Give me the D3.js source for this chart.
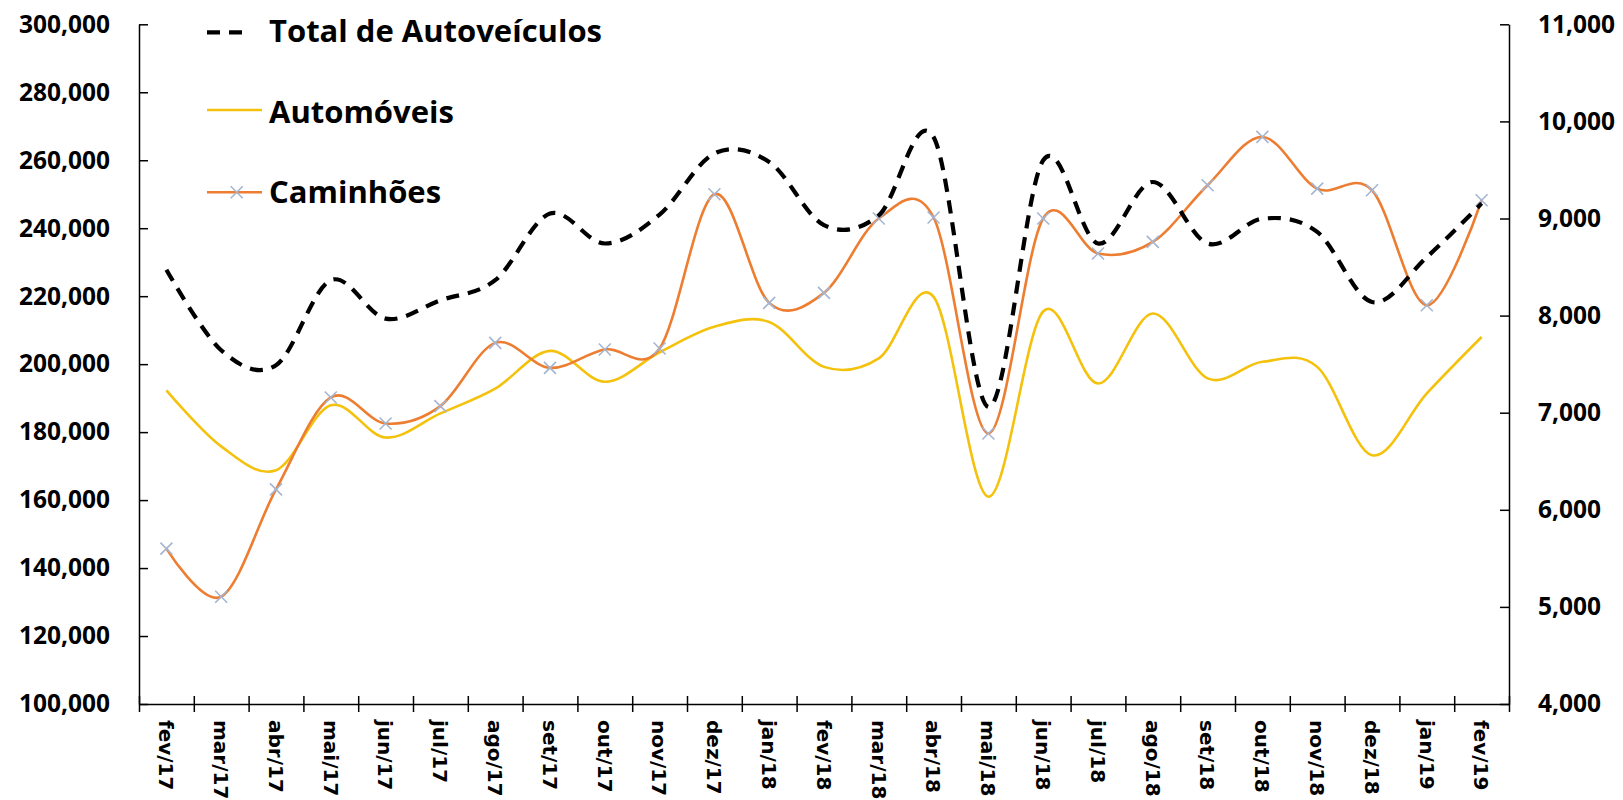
<!DOCTYPE html>
<html>
<head>
<meta charset="utf-8">
<script src="https://cdn.jsdelivr.net/npm/d3@7"></script>
<style>
  html, body { margin: 0; padding: 0; background: #fff; }
  svg { display: block; }
</style>
</head>
<body>
<svg id="chart" width="1623" height="800"></svg>
<script>
const categories = ["fev/17","mar/17","abr/17","mai/17","jun/17","jul/17","ago/17","set/17","out/17","nov/17","dez/17","jan/18","fev/18","mar/18","abr/18","mai/18","jun/18","jul/18","ago/18","set/18","out/18","nov/18","dez/18","jan/19","fev/19"];
const totalAutoveiculos = [227800,204100,199700,224700,213400,218800,224700,244300,235500,244000,262000,259500,240900,243800,266800,187400,260000,235500,253600,235500,242800,238900,218300,231500,247300];
const automoveis = [192300,175800,168800,187900,178400,185500,192800,203900,194800,203500,211000,212400,199200,201700,219800,161000,215500,194300,214900,195800,200700,199200,173200,191400,208000];
const caminhoes = [5600,5105,6210,7157,6889,7068,7719,7462,7651,7661,9250,8131,8234,9000,9010,6786,9000,8639,8759,9343,9840,9308,9291,8107,9188];
const leftTicks = [100000,120000,140000,160000,180000,200000,220000,240000,260000,280000,300000];
const rightTicks = [4000,5000,6000,7000,8000,9000,10000,11000];
const legendLabels = ["Total de Autoveículos","Automóveis","Caminhões"];

const svg = d3.select("#chart");
const L = 139, R = 1509, T = 24.3, B = 704;

const x = d3.scaleBand().domain(categories).range([L, R]).padding(0);
const xIdx = d3.scaleLinear().domain([0, categories.length]).range([L, R]);
const yL = d3.scaleLinear().domain([100000, 300000]).range([B, T]);
const yR = d3.scaleLinear().domain([4000, 11000]).range([B, T]);
const cx = c => x(c) + x.bandwidth() / 2;

const tickFont = "'Open Sans', sans-serif";

// Left axis
const gL = svg.append("g").attr("transform", `translate(${L},0)`)
  .call(d3.axisLeft(yL).tickValues(leftTicks).tickFormat(d3.format(",")).tickSizeInner(-9).tickSizeOuter(0).tickPadding(29));
gL.select(".domain").attr("stroke", "#000").attr("stroke-width", 1.5);
gL.selectAll(".tick line").attr("stroke", "#000").attr("stroke-width", 1.5);
gL.selectAll(".tick text").attr("font-family", tickFont).attr("font-weight", 700)
  .attr("font-size", "24.5px").attr("fill", "#000");

// Right axis
const gR = svg.append("g").attr("transform", `translate(${R},0)`)
  .call(d3.axisRight(yR).tickValues(rightTicks).tickFormat(d3.format(",")).tickSizeInner(-9).tickSizeOuter(0).tickPadding(29));
gR.select(".domain").attr("stroke", "#000").attr("stroke-width", 1.5);
gR.selectAll(".tick line").attr("stroke", "#000").attr("stroke-width", 1.5);
gR.selectAll(".tick text").attr("font-family", tickFont).attr("font-weight", 700)
  .attr("font-size", "24.5px").attr("fill", "#000");

// Bottom axis (ticks at category boundaries, crossing)
const gB = svg.append("g").attr("transform", `translate(0,${B})`)
  .call(d3.axisBottom(xIdx).tickValues(d3.range(0, categories.length + 1)).tickFormat("").tickSizeOuter(0));
gB.select(".domain").attr("stroke", "#000").attr("stroke-width", 1.5);
gB.selectAll(".tick line").attr("y1", -8).attr("y2", 8).attr("stroke", "#000").attr("stroke-width", 1.5);

// Category labels (rotated)
svg.append("g").selectAll("text").data(categories).join("text")
  .attr("transform", d => `translate(${cx(d)},${B + 16}) rotate(90)`)
  .attr("text-anchor", "start")
  .attr("dy", "0.36em")
  .attr("font-family", "'DejaVu Sans', Verdana, sans-serif")
  .attr("font-weight", 700)
  .attr("font-size", "20px")
  .attr("fill", "#000")
  .text(d => d);

const curve = d3.curveCardinal.tension(0);

// Automóveis
const lineL = d3.line().x((d, i) => cx(categories[i])).y(d => yL(d)).curve(curve);
const lineR = d3.line().x((d, i) => cx(categories[i])).y(d => yR(d)).curve(curve);

svg.append("path").datum(automoveis).attr("d", lineL)
  .attr("fill", "none").attr("stroke", "#F4C20D").attr("stroke-width", 2.6);

svg.append("path").datum(caminhoes).attr("d", lineR)
  .attr("fill", "none").attr("stroke", "#ED7D31").attr("stroke-width", 2.6);

// X markers
const markerColor = "#A5B5D0";
const xMark = s => `M${-s},${-s}L${s},${s}M${-s},${s}L${s},${-s}`;
svg.append("g").selectAll("path").data(caminhoes).join("path")
  .attr("transform", (d, i) => `translate(${cx(categories[i])},${yR(d)})`)
  .attr("d", xMark(6))
  .attr("stroke", markerColor).attr("stroke-width", 1.6).attr("fill", "none");

svg.append("path").datum(totalAutoveiculos).attr("d", lineL)
  .attr("fill", "none").attr("stroke", "#000").attr("stroke-width", 4.2)
  .attr("stroke-dasharray", "13,9");

// Legend
const legendFont = "'Open Sans', sans-serif";
const lg = svg.append("g");
lg.append("line").attr("x1", 207).attr("x2", 243).attr("y1", 32.3).attr("y2", 32.3)
  .attr("stroke", "#000").attr("stroke-width", 4.2).attr("stroke-dasharray", "13,9");
lg.append("line").attr("x1", 207).attr("x2", 262).attr("y1", 110).attr("y2", 110)
  .attr("stroke", "#F4C20D").attr("stroke-width", 2.6);
lg.append("line").attr("x1", 207).attr("x2", 262).attr("y1", 192.3).attr("y2", 192.3)
  .attr("stroke", "#ED7D31").attr("stroke-width", 2.6);
lg.append("path").attr("transform", "translate(236.7,192.3)").attr("d", xMark(6))
  .attr("stroke", markerColor).attr("stroke-width", 1.6).attr("fill", "none");
const baselines = [42.3, 122.7, 203.3];
lg.selectAll("text").data(legendLabels).join("text")
  .attr("x", 269).attr("y", (d, i) => baselines[i])
  .attr("font-family", legendFont).attr("font-weight", 700).attr("font-size", "31px")
  .attr("fill", "#000").text(d => d);
</script>
</body>
</html>
